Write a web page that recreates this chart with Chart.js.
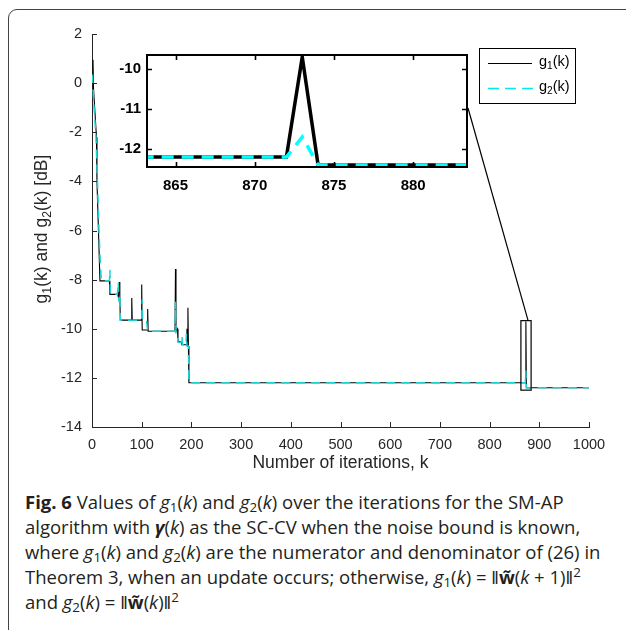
<!DOCTYPE html>
<html>
<head>
<meta charset="utf-8">
<script src="https://cdn.jsdelivr.net/npm/chart.js@4.4.0/dist/chart.umd.min.js"></script>
<style>
  html, body { margin: 0; padding: 0; background: #fff; }
  body { width: 626px; height: 630px; position: relative; overflow: hidden; }
  #frame { position: absolute; left: 8px; top: 9px; width: 700px; height: 700px;
           border: 1.5px solid #444; border-radius: 9px; box-sizing: border-box; }
  #main { position: absolute; left: 0; top: 0; }
  #inset { position: absolute; left: 105px; top: 40px; }
  #caption { position: absolute; left: 25px; top: 489px; font-family: "Open Sans", sans-serif;
             font-size: 18.5px; line-height: 25px; color: #231f20; white-space: nowrap; }
  #caption sub { font-size: 0.72em; vertical-align: -0.25em; line-height: 0; }
  #caption sup { font-size: 0.72em; vertical-align: 0.55em; line-height: 0; }
</style>
</head>
<body>
<div id="frame"></div>
<canvas id="main" width="626" height="475"></canvas>
<canvas id="inset" width="375" height="160"></canvas>
<div id="caption">
  <b>Fig. 6</b> Values of <i>g</i><sub>1</sub>(<i>k</i>) and <i>g</i><sub>2</sub>(<i>k</i>) over the iterations for the SM-AP<br>
  algorithm with <b><i>γ</i></b>(<i>k</i>) as the SC-CV when the noise bound is known,<br>
  where <i>g</i><sub>1</sub>(<i>k</i>) and <i>g</i><sub>2</sub>(<i>k</i>) are the numerator and denominator of (26) in<br>
  Theorem 3, when an update occurs; otherwise, <i>g</i><sub>1</sub>(<i>k</i>) = ‖<b>w̃</b>(<i>k</i> + 1)‖<sup>2</sup><br>
  and <i>g</i><sub>2</sub>(<i>k</i>) = ‖<b>w̃</b>(<i>k</i>)‖<sup>2</sup>
</div>
<script>
// g1(k), solid black — breakpoints
const g1Iter = [0, 2, 3, 9, 10, 13, 16, 35, 36, 52, 53, 55, 56, 57, 79, 80, 81, 99, 100, 101, 111, 112, 113,
                167, 168, 169, 172, 173, 180, 181, 190, 191, 192, 193, 194, 195, 872, 873, 874, 1000];
const g1Db   = [0.0, 0.95, -0.2, -2.2, -4.0, -6.0, -8.05, -8.05, -8.6, -8.6, -8.7, -8.1, -8.7, -9.65, -9.65, -8.75, -9.65, -9.65, -8.2, -10.05, -10.05, -9.2, -10.1,
                -10.1, -7.57, -10.1, -10.0, -10.5, -10.55, -10.65, -10.65, -10.0, -10.7, -9.15, -10.7, -12.2, -12.2, -9.7, -12.4, -12.4];

// g2(k), dashed cyan
const g2Iter = [1, 3, 8, 11, 14, 17, 19, 35, 36, 37, 51, 53, 54, 56, 57, 100, 101, 102, 110, 112,
                167, 168, 169, 172, 173, 180, 181, 182, 189, 190, 191, 194, 195, 872, 873, 874, 1000];
const g2Db   = [0.35, -0.6, -2.2, -4.0, -6.0, -7.5, -8.05, -8.05, -7.6, -8.6, -8.6, -8.1, -8.9, -8.6, -9.65, -9.65, -8.8, -9.7, -9.7, -10.1,
                -10.1, -8.9, -10.2, -10.2, -10.55, -10.55, -10.3, -10.65, -10.65, -10.2, -10.7, -10.7, -12.2, -12.2, -11.7, -12.4, -12.4];

const mainXTicks  = [0, 100, 200, 300, 400, 500, 600, 700, 800, 900, 1000];
const mainYTicks  = [-14, -12, -10, -8, -6, -4, -2, 0, 2];
const insetXTicks = [865, 870, 875, 880];
const insetYTicks = [-12, -11, -10];

const pts = (xs, ys) => xs.map((x, i) => ({ x: x, y: ys[i] }));
const INK = '#262626';

// matlab-like ticks pointing into the plot area
function inwardTicks(chart, len, width, color, mirror) {
  const { ctx, chartArea: a, scales: { x, y } } = chart;
  ctx.save();
  ctx.strokeStyle = color;
  ctx.lineWidth = width;
  ctx.beginPath();
  x.ticks.forEach(t => {
    const px = Math.round(x.getPixelForValue(t.value)) + 0.5;
    ctx.moveTo(px, a.bottom); ctx.lineTo(px, a.bottom - len);
    if (mirror) { ctx.moveTo(px, a.top); ctx.lineTo(px, a.top + len); }
  });
  y.ticks.forEach(t => {
    const py = Math.round(y.getPixelForValue(t.value)) + 0.5;
    ctx.moveTo(a.left, py); ctx.lineTo(a.left + len, py);
    if (mirror) { ctx.moveTo(a.right, py); ctx.lineTo(a.right - len, py); }
  });
  ctx.stroke();
  ctx.restore();
}

// text with subscript digits: parts = [[text, isSub], ...]
function subWidth(ctx, parts, size) {
  let w = 0;
  parts.forEach(p => {
    ctx.font = (p[1] ? size * 0.7 : size) + 'px "Liberation Sans"';
    w += ctx.measureText(p[0]).width;
  });
  return w;
}

function subText(ctx, parts, x, y, size) {
  let cx = x;
  parts.forEach(p => {
    ctx.font = (p[1] ? size * 0.7 : size) + 'px "Liberation Sans"';
    ctx.fillText(p[0], cx, p[1] ? y + size * 0.3 : y);
    cx += ctx.measureText(p[0]).width;
  });
}

/* ══════════════════════════════
   MAIN CHART
══════════════════════════════ */
const mainExtras = {
  id: 'mainExtras',
  afterDraw(chart) {
    const { ctx, scales: { x, y } } = chart;
    inwardTicks(chart, 5, 1, INK, false);

    ctx.save();
    ctx.fillStyle = INK;
    ctx.textBaseline = 'middle';

    // x title
    ctx.font = '17.5px "Liberation Sans"';
    ctx.textAlign = 'center';
    ctx.fillText('Number of iterations, k', (chart.chartArea.left + chart.chartArea.right) / 2, 463);

    // y title, rotated
    ctx.textAlign = 'left';
    const yParts = [['g', 0], ['1', 1], ['(k) and g', 0], ['2', 1], ['(k) [dB]', 0]];
    const w = subWidth(ctx, yParts, 17.5);
    ctx.save();
    ctx.translate(42, 229);
    ctx.rotate(-Math.PI / 2);
    subText(ctx, yParts, -w / 2, 0, 17.5);
    ctx.restore();

    // zoom rectangle + connector
    const rx0 = x.getPixelForValue(863), rx1 = x.getPixelForValue(883.5);
    const ry0 = y.getPixelForValue(-9.67), ry1 = y.getPixelForValue(-12.5);
    ctx.strokeStyle = '#000';
    ctx.lineWidth = 1.2;
    ctx.strokeRect(rx0, ry0, rx1 - rx0, ry1 - ry0);
    ctx.beginPath();
    ctx.moveTo(468, 108);
    ctx.lineTo(rx1 - 3, ry0);
    ctx.stroke();

    // legend
    ctx.fillStyle = '#fff';
    ctx.fillRect(479, 48, 96, 55);
    ctx.lineWidth = 1;
    ctx.strokeStyle = '#000';
    ctx.strokeRect(479.5, 48.5, 96, 55);
    ctx.beginPath();
    ctx.moveTo(488, 63.5); ctx.lineTo(532, 63.5);
    ctx.stroke();
    ctx.strokeStyle = '#00e8f0';
    ctx.lineWidth = 1.5;
    ctx.setLineDash([11, 6]);
    ctx.beginPath();
    ctx.moveTo(488, 88.5); ctx.lineTo(533, 88.5);
    ctx.stroke();
    ctx.setLineDash([]);
    ctx.fillStyle = '#000';
    subText(ctx, [['g', 0], ['1', 1], ['(k)', 0]], 539, 62, 14.5);
    subText(ctx, [['g', 0], ['2', 1], ['(k)', 0]], 539, 87, 14.5);
    ctx.restore();
  }
};

new Chart(document.getElementById('main'), {
  type: 'line',
  data: {
    datasets: [
      {
        label: 'g2(k)',
        data: pts(g2Iter, g2Db),
        borderColor: '#1cd0d4',
        borderWidth: 1.5,
        borderDash: [9, 6],
        pointRadius: 0,
        order: 0
      },
      {
        label: 'g1(k)',
        data: pts(g1Iter, g1Db),
        borderColor: '#000',
        borderWidth: 1.1,
        pointRadius: 0,
        order: 1
      }
    ]
  },
  options: {
    responsive: false,
    animation: false,
    layout: { padding: { top: 34, right: 37, left: 0, bottom: 0 } },
    plugins: { legend: { display: false }, tooltip: { enabled: false } },
    scales: {
      x: {
        type: 'linear',
        min: 0,
        max: 1000,
        afterFit: s => { s.height = 48; },
        afterBuildTicks: s => { s.ticks = mainXTicks.map(v => ({ value: v })); },
        grid: { display: false, drawTicks: false },
        border: { color: INK },
        ticks: {
          padding: 9, maxRotation: 0, color: INK,
          font: { family: 'Liberation Sans', size: 14.5 },
          callback: v => String(v)
        }
      },
      y: {
        min: -14,
        max: 2,
        afterFit: s => { s.width = 92; },
        afterBuildTicks: s => { s.ticks = mainYTicks.map(v => ({ value: v })); },
        grid: { display: false, drawTicks: false },
        border: { color: INK },
        ticks: {
          padding: 10, color: INK,
          font: { family: 'Liberation Sans', size: 14.5 },
          callback: v => String(v)
        }
      }
    }
  },
  plugins: [mainExtras]
});

/* ══════════════════════════════
   INSET (zoom on k = 863..883)
══════════════════════════════ */
const insetBox = {
  id: 'insetBox',
  afterDraw(chart) {
    const { ctx, chartArea: a } = chart;
    inwardTicks(chart, 5, 1.6, '#000', true);
    ctx.save();
    ctx.strokeStyle = '#000';
    ctx.lineWidth = 2;
    ctx.strokeRect(a.left, a.top, a.right - a.left, a.bottom - a.top);
    ctx.restore();
  }
};

new Chart(document.getElementById('inset'), {
  type: 'line',
  data: {
    datasets: [
      {
        label: 'g2(k)',
        data: pts(g2Iter, g2Db),
        borderColor: '#00ffff',
        borderWidth: 3.5,
        borderDash: [12, 8],
        pointRadius: 0,
        order: 0
      },
      {
        label: 'g1(k)',
        data: pts(g1Iter, g1Db),
        borderColor: '#000',
        borderWidth: 3.5,
        pointRadius: 0,
        order: 1
      }
    ]
  },
  options: {
    responsive: false,
    animation: false,
    layout: { padding: { top: 14, right: 13, left: 0, bottom: 0 } },
    plugins: { legend: { display: false }, tooltip: { enabled: false } },
    scales: {
      x: {
        type: 'linear',
        min: 863.2,
        max: 883.4,
        afterFit: s => { s.height = 33; },
        afterBuildTicks: s => { s.ticks = insetXTicks.map(v => ({ value: v })); },
        grid: { display: false, drawTicks: false },
        border: { display: false },
        ticks: {
          padding: 10, maxRotation: 0, color: '#000',
          font: { family: 'Liberation Sans', size: 15, weight: 'bold' },
          callback: v => String(v)
        }
      },
      y: {
        min: -12.45,
        max: -9.65,
        afterFit: s => { s.width = 42; },
        afterBuildTicks: s => { s.ticks = insetYTicks.map(v => ({ value: v })); },
        grid: { display: false, drawTicks: false },
        border: { display: false },
        ticks: {
          padding: 6, color: '#000',
          font: { family: 'Liberation Sans', size: 15, weight: 'bold' },
          callback: v => String(v)
        }
      }
    }
  },
  plugins: [insetBox]
});
</script>
</body>
</html>
